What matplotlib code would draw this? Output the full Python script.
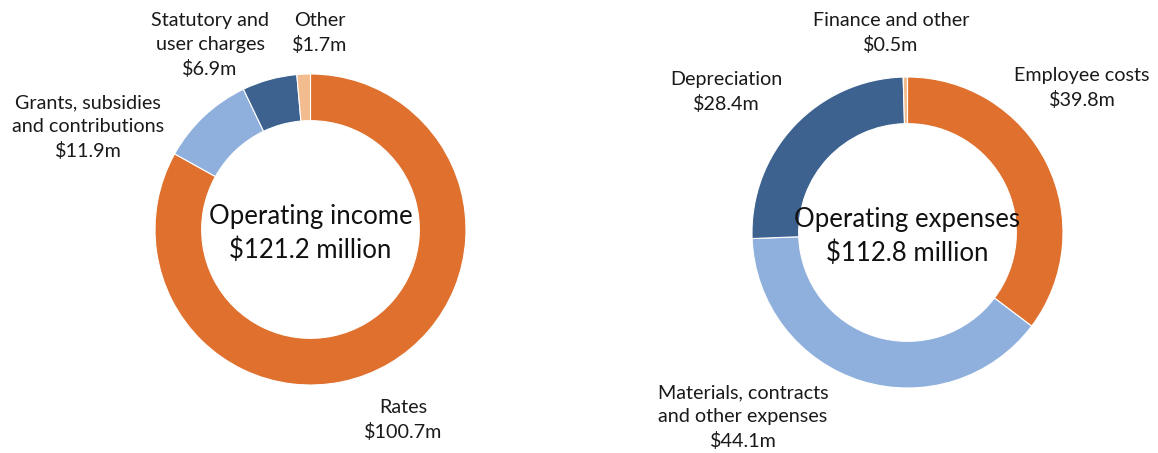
import matplotlib.pyplot as plt

# income
income_labels = ['Rates', 'Grants, subsidies\nand contributions', 'Statutory and\nuser charges', 'Other']
income_values = [100.7, 11.9, 6.9, 1.7]
income_total = 121.2

# expenses
expense_labels = ['Employee costs', 'Materials, contracts\nand other expenses', 'Depreciation', 'Finance and other']
expense_values = [39.8, 44.1, 28.4, 0.5]
expense_total = 112.8

colors = ['#DF702D', '#8FB0DC', '#3D6290', '#F3BC8E']

plt.rcParams['font.family'] = ['Lato', 'DejaVu Sans']

W, H = 1158, 453
fig = plt.figure(figsize=(W / 100, H / 100), dpi=100)
ax = fig.add_axes([0, 0, 1, 1])

R = 155.5
ring = 0.30 * R


def donut(center, values, labels, label_pos, title, total):
    ax.pie(values, colors=colors, startangle=90, counterclock=False,
           center=center, radius=R,
           wedgeprops=dict(width=ring, edgecolor='white', linewidth=0.8))
    for lab, v, (x, y) in zip(labels, values, label_pos):
        ax.text(x, H - y, '{}\n${}m'.format(lab, v), ha='center', va='center',
                fontsize=14.2, linespacing=1.45, color='#1a1a1a')
    ax.text(center[0], center[1] - 4, '{}\n${} million'.format(title, total),
            ha='center', va='center', fontsize=18.5, linespacing=1.4, color='#111111')


donut((310.5, H - 229.5), income_values, income_labels,
      [(403, 420), (88, 127), (210, 45), (320, 33)],
      'Operating income', income_total)
donut((907.5, H - 232.5), expense_values, expense_labels,
      [(1082, 88), (743, 417), (726, 92), (891, 33)],
      'Operating expenses', expense_total)

ax.set_xlim(0, W)
ax.set_ylim(0, H)
ax.set_aspect('auto')
ax.axis('off')

fig.savefig('out.png', dpi=100)
